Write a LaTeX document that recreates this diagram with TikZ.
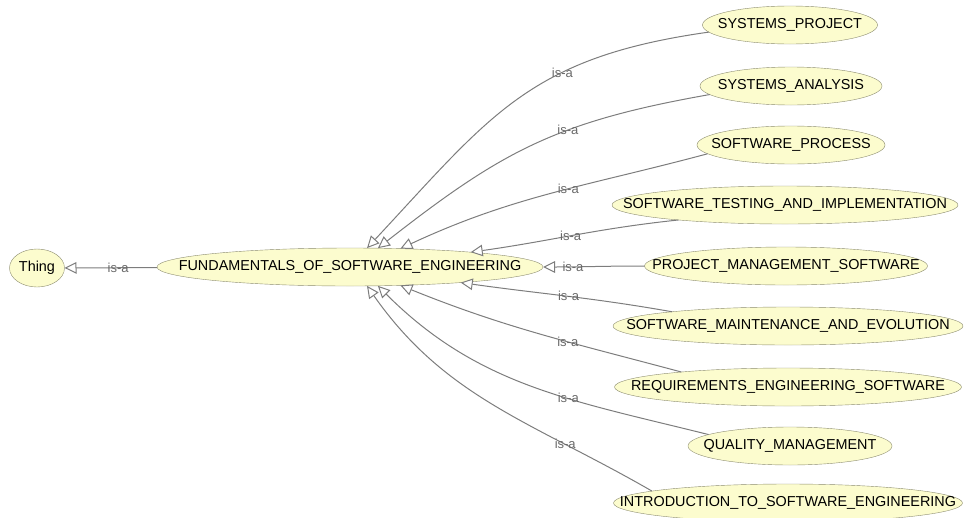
\documentclass[tikz,border=0pt]{standalone}
\usepackage{fontspec}
\setmainfont{Liberation Sans}
\usepackage{xcolor}
\usepackage{tikz}
\usetikzlibrary{positioning,shapes.geometric,arrows.meta}

\definecolor{clsfill}{RGB}{252,252,206}
\definecolor{clsdraw}{RGB}{140,140,112}
\definecolor{edgegray}{RGB}{125,125,125}
\definecolor{isagray}{RGB}{105,105,105}
\newcommand{\clsname}[1]{\makebox[0pt]{#1}}

\tikzset{
  cls/.style={ellipse, draw=clsdraw, fill=clsfill, inner sep=0pt, outer sep=0pt,
    minimum height=38pt, font=\fontsize{14.4}{16}\selectfont},
  isa/.style={draw=edgegray, line width=1pt,
    -{Triangle[length=12pt, width=11.5pt, fill=white]}},
  isalabel/.style={font=\fontsize{13}{15}\selectfont, text=isagray, inner sep=0pt}
}

\begin{document}
\begin{tikzpicture}[x=1pt, y=1pt]
  \useasboundingbox (0,0) rectangle (967,-517);
  % Root and main class
  \node[cls, minimum width=55pt] (thing) at (37,-268) {\clsname{Thing}};
  \node[cls, minimum width=386pt] (fse) at (350,-267) {\clsname{FUNDAMENTALS\_OF\_SOFTWARE\_ENGINEERING}};
  % Subclasses (right column)
  \node[cls, minimum width=175pt] (sysproj) at (790,-25) {\clsname{SYSTEMS\_PROJECT}};
  \node[cls, minimum width=182pt] (sysana) at (791,-86) {\clsname{SYSTEMS\_ANALYSIS}};
  \node[cls, minimum width=188pt] (swproc) at (791,-145) {\clsname{SOFTWARE\_PROCESS}};
  \node[cls, minimum width=346pt] (swtest) at (785,-205) {\clsname{SOFTWARE\_TESTING\_AND\_IMPLEMENTATION}};
  \node[cls, minimum width=283pt] (pms) at (786,-266) {\clsname{PROJECT\_MANAGEMENT\_SOFTWARE}};
  \node[cls, minimum width=350pt] (swmaint) at (788,-326) {\clsname{SOFTWARE\_MAINTENANCE\_AND\_EVOLUTION}};
  \node[cls, minimum width=347pt] (reqeng) at (788,-387) {\clsname{REQUIREMENTS\_ENGINEERING\_SOFTWARE}};
  \node[cls, minimum width=204pt] (qualmgmt) at (790,-446) {\clsname{QUALITY\_MANAGEMENT}};
  \node[cls, minimum width=349pt] (introse) at (788,-503) {\clsname{INTRODUCTION\_TO\_SOFTWARE\_ENGINEERING}};
  % is-a to Thing
  \draw[isa] (fse) -- node[isalabel, pos=0.42] {is-a} (thing);
  % is-a edges: child/start anchor/out/end anchor/in/label pos/looseness
  \foreach \c/\s/\o/\e/\i/\p/\l in {
      sysproj/185/188/48/47/0.35/1.15,
      sysana/186/190/34/38/0.38/1.1,
      swproc/186/195/20/25/0.44/1,
      swtest/188/186/7.4/8/0.52/1,
      pms/180/180/0/0/0.72/1,
      swmaint/173/170/352.6/352/0.49/1,
      reqeng/172/165/340/338/0.39/1,
      qualmgmt/172/166/326/315/0.38/1,
      introse/175/150/312/305/0.26/1} {
    \draw[isa] (\c.\s) to[out=\o, in=\i, looseness=\l] node[isalabel, pos=\p] {is-a} (fse.\e);
  }
\end{tikzpicture}
\end{document}
